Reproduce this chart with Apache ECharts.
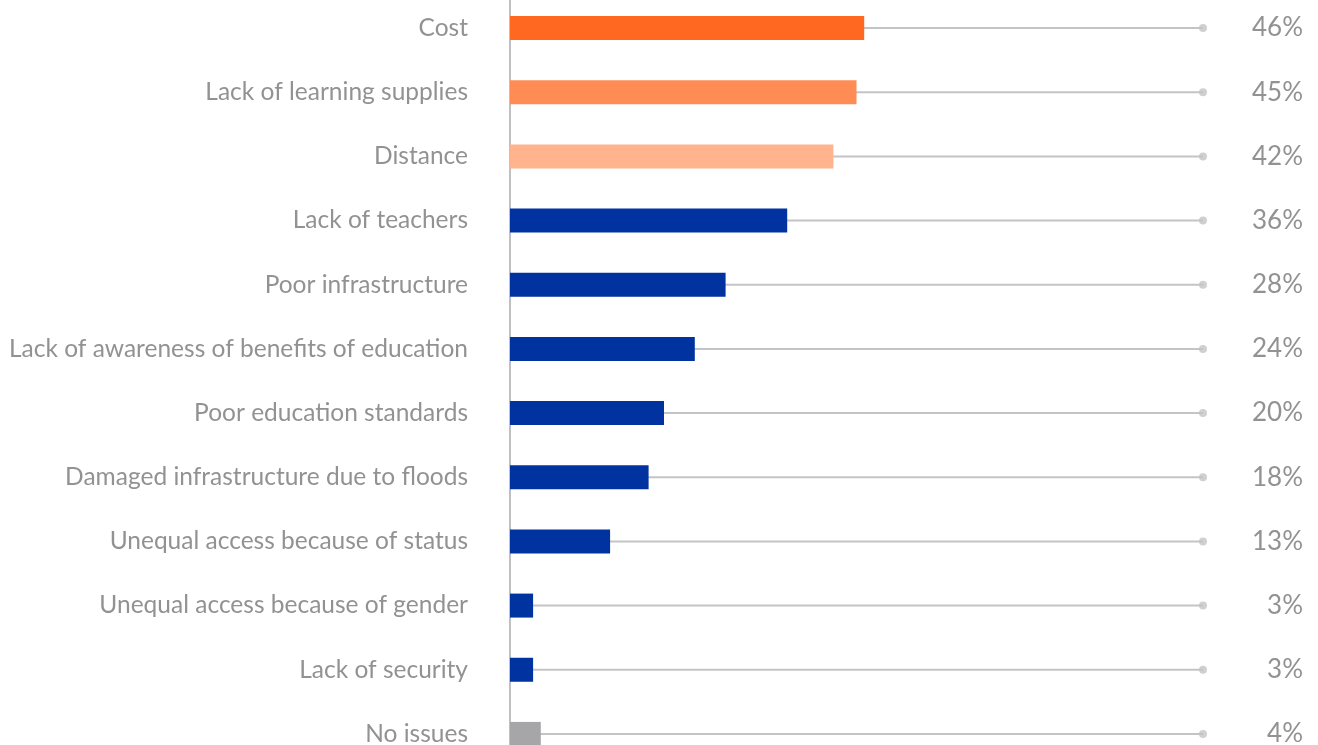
<!DOCTYPE html>
<html>
<head>
<meta charset="utf-8">
<script src="https://cdn.jsdelivr.net/npm/echarts@6/dist/echarts.min.js"></script>
<style>
  html, body { margin: 0; padding: 0; background: #ffffff; overflow: hidden; }
  body { width: 1318px; height: 745px; }
  /* the last row runs past the bottom edge, the first starts just above the top */
  #chart { position: relative; top: -4px; width: 1318px; height: 770px; }
</style>
</head>
<body>
<div id="chart"></div>
<script>
// Barriers to education, share of respondents (%)
const categories = [
  'Cost',
  'Lack of learning supplies',
  'Distance',
  'Lack of teachers',
  'Poor infrastructure',
  'Lack of awareness of benefits of education',
  'Poor education standards',
  'Damaged infrastructure due to floods',
  'Unequal access because of status',
  'Unequal access because of gender',
  'Lack of security',
  'No issues'
];
const values = [46, 45, 42, 36, 28, 24, 20, 18, 13, 3, 3, 4];
const barColors = [
  '#FF6820', '#FF8C55', '#FFB48E',
  '#0033A0', '#0033A0', '#0033A0', '#0033A0', '#0033A0',
  '#0033A0', '#0033A0', '#0033A0',
  '#A6A6A9'
];
const valueLabels = values.map(v => v + '%');
const axisMax = 90;

const textGray = '#929292';
const trackGray = '#C4C4C8';
const fontFamily = 'Lato, "Open Sans", sans-serif';

const chart = echarts.init(document.getElementById('chart'), null, { renderer: 'canvas' });

chart.setOption({
  animation: false,
  grid: { left: 510, right: 115, top: 0, bottom: 0, containLabel: false },
  xAxis: [
    { type: 'value', min: 0, max: axisMax, show: false },
    { type: 'value', min: 0, max: axisMax, show: false }
  ],
  yAxis: [
    {
      type: 'category',
      data: categories,
      inverse: true,
      axisLine: { show: true, lineStyle: { color: '#BFBFC4', width: 2 } },
      axisTick: { show: false },
      axisLabel: {
        color: textGray,
        fontFamily: fontFamily,
        fontSize: 24.5,
        margin: 42,
        padding: [5, 0, 0, 0]
      }
    },
    {
      type: 'category',
      data: valueLabels,
      inverse: true,
      position: 'right',
      axisLine: { show: false },
      axisTick: { show: false },
      axisLabel: {
        color: textGray,
        fontFamily: fontFamily,
        fontSize: 26,
        align: 'right',
        margin: 100,
        padding: [2, 0, 0, 0]
      }
    }
  ],
  series: [
    {
      // thin track running to the end of the scale
      type: 'bar',
      xAxisIndex: 1,
      yAxisIndex: 1,
      data: values.map(() => axisMax),
      barWidth: 2,
      itemStyle: { color: trackGray },
      silent: true,
      z: 1
    },
    {
      type: 'scatter',
      xAxisIndex: 1,
      yAxisIndex: 1,
      data: values.map((v, i) => [axisMax, i]),
      symbol: 'circle',
      symbolSize: 8,
      itemStyle: { color: trackGray },
      silent: true,
      z: 1
    },
    {
      type: 'bar',
      xAxisIndex: 0,
      yAxisIndex: 0,
      data: values.map((v, i) => ({ value: v, itemStyle: { color: barColors[i] } })),
      barWidth: 24,
      z: 3
    }
  ]
});
</script>
</body>
</html>
